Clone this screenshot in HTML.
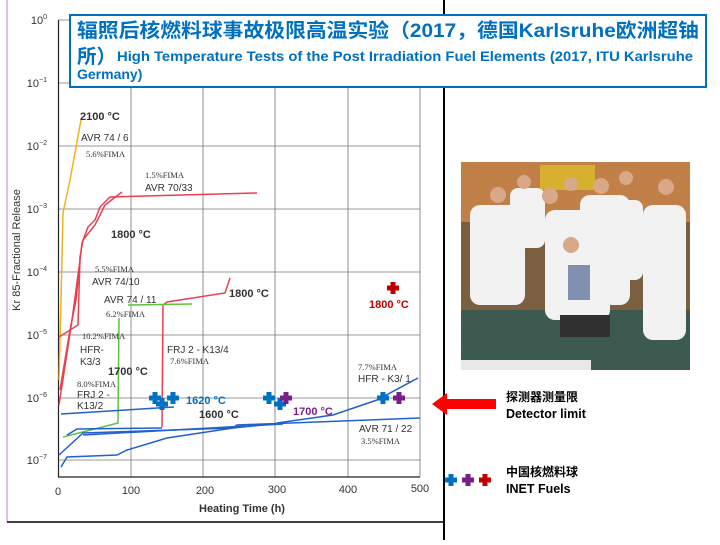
<!DOCTYPE html>
<html><head><meta charset="utf-8"><style>
body{margin:0;background:#fff;width:720px;height:540px;overflow:hidden;font-family:"Liberation Sans","Noto Sans CJK SC",sans-serif;}
</style></head><body>
<svg width="720" height="540" viewBox="0 0 720 540" xmlns="http://www.w3.org/2000/svg" font-family="Liberation Sans, Noto Sans CJK SC, sans-serif">
<defs>
<g id="cr"><path d="M-2.5,-6h5v3.5h3.5v5h-3.5v3.5h-5v-3.5h-3.5v-5h3.5z"/></g>
</defs>
<line x1="7" y1="0" x2="7" y2="522" stroke="#c080c0" stroke-width="1"/>
<line x1="7" y1="522" x2="444" y2="522" stroke="#000" stroke-width="1.5"/>
<line x1="444" y1="0" x2="444" y2="540" stroke="#000" stroke-width="2"/>
<g stroke="#777" stroke-width="0.8">
<line x1="58" y1="20" x2="420" y2="20"/><line x1="58" y1="83" x2="420" y2="83"/>
<line x1="58" y1="146" x2="420" y2="146"/><line x1="58" y1="209" x2="420" y2="209"/>
<line x1="58" y1="272" x2="420" y2="272"/><line x1="58" y1="335" x2="420" y2="335"/>
<line x1="58" y1="398" x2="420" y2="398"/><line x1="58" y1="460" x2="420" y2="460"/>
<line x1="131" y1="20" x2="131" y2="477"/><line x1="203" y1="20" x2="203" y2="477"/>
<line x1="275" y1="20" x2="275" y2="477"/><line x1="348" y1="20" x2="348" y2="477"/>
<line x1="420" y1="20" x2="420" y2="477"/>
</g>
<line x1="58.5" y1="20" x2="58.5" y2="477" stroke="#222" stroke-width="1.2"/>
<line x1="58" y1="477" x2="420" y2="477" stroke="#222" stroke-width="1.2"/>
<g font-size="11" fill="#333" text-anchor="end">
<text x="47" y="24">10<tspan dy="-5" font-size="7">0</tspan></text>
<text x="47" y="87">10<tspan dy="-5" font-size="7">−1</tspan></text>
<text x="47" y="150">10<tspan dy="-5" font-size="7">−2</tspan></text>
<text x="47" y="213">10<tspan dy="-5" font-size="7">−3</tspan></text>
<text x="47" y="276">10<tspan dy="-5" font-size="7">−4</tspan></text>
<text x="47" y="339">10<tspan dy="-5" font-size="7">−5</tspan></text>
<text x="47" y="402">10<tspan dy="-5" font-size="7">−6</tspan></text>
<text x="47" y="464">10<tspan dy="-5" font-size="7">−7</tspan></text>
</g>
<g font-size="11" fill="#333" text-anchor="middle">
<text x="58" y="495">0</text><text x="131" y="494">100</text><text x="205" y="494">200</text>
<text x="277" y="493">300</text><text x="348" y="493">400</text><text x="420" y="492">500</text>
</g>
<text x="242" y="512" font-size="11" font-weight="bold" fill="#333" text-anchor="middle">Heating Time (h)</text>
<text transform="translate(20,250) rotate(-90)" font-size="11" fill="#333" text-anchor="middle">Kr 85-Fractional Release</text>
<g fill="none" stroke-width="1.5">
<path d="M59,380 L61,300 L63,213 L70,180 L81,120" stroke="#f0b020"/>
<path d="M59,405 L67,353 L72,320 L80,260 L82,243 L88,227 L95,220 L100,207 L110,197 L257,193" stroke="#e84050"/>
<path d="M59,337 L78,325 L80,257 L83,240 L95,225 L105,205 L122,192" stroke="#e84050"/>
<path d="M60,390 L70,330 L76,300 L80,262" stroke="#e84050"/>
<path d="M162,427 L163,305 L167,302 L225,293 L230,278" stroke="#e84050"/>
<path d="M63,437 L118,423 L119,318" stroke="#60c040"/>
<path d="M128,305 L192,304" stroke="#60c040"/>
<path d="M61,414 L174,407" stroke="#2060d0"/>
<path d="M67,435 L77,429 L162,428" stroke="#2060d0"/>
<path d="M59,455 L83,433 L233,428 L237,425 L420,418" stroke="#2060d0"/>
<path d="M61,467 L67,457 L117,455 L127,450 L167,438 L233,428 L283,423" stroke="#2060d0"/>
<path d="M83,435 L283,424" stroke="#2060d0"/>
<path d="M277,423 L333,415 L377,400 L418,378" stroke="#2060d0"/>
</g>
<g font-size="10" fill="#333">
<text x="80" y="120" font-weight="bold" font-size="11">2100 °C</text>
<text x="81" y="141">AVR 74 / 6</text>
<text x="86" y="157" font-family="Liberation Serif" font-size="8.5">5.6%FIMA</text>
<text x="145" y="178" font-family="Liberation Serif" font-size="8.5">1.5%FIMA</text>
<text x="145" y="191">AVR 70/33</text>
<text x="111" y="238" font-weight="bold" font-size="11">1800 °C</text>
<text x="95" y="272" font-family="Liberation Serif" font-size="8.5">5.5%FIMA</text>
<text x="92" y="285">AVR 74/10</text>
<text x="104" y="303">AVR 74 / 11</text>
<text x="106" y="317" font-family="Liberation Serif" font-size="8.5">6.2%FIMA</text>
<text x="229" y="297" font-weight="bold" font-size="11">1800 °C</text>
<text x="82" y="339" font-family="Liberation Serif" font-size="8.5">10.2%FIMA</text>
<text x="80" y="353">HFR-</text>
<text x="80" y="365">K3/3</text>
<text x="167" y="353">FRJ 2 - K13/4</text>
<text x="170" y="364" font-family="Liberation Serif" font-size="8.5">7.6%FIMA</text>
<text x="108" y="375" font-weight="bold" font-size="11">1700 °C</text>
<text x="77" y="387" font-family="Liberation Serif" font-size="8.5">8.0%FIMA</text>
<text x="77" y="398">FRJ 2 -</text>
<text x="77" y="409">K13/2</text>
<text x="199" y="418" font-weight="bold" font-size="11">1600 °C</text>
<text x="358" y="370" font-family="Liberation Serif" font-size="8.5">7.7%FIMA</text>
<text x="358" y="382">HFR - K3/ 1</text>
<text x="359" y="432">AVR 71 / 22</text>
<text x="361" y="444" font-family="Liberation Serif" font-size="8.5">3.5%FIMA</text>
</g>
<g fill="#0070c0">
<use href="#cr" x="155" y="398"/><use href="#cr" x="162" y="404"/><use href="#cr" x="173" y="398"/>
<use href="#cr" x="269" y="398"/><use href="#cr" x="280" y="404"/><use href="#cr" x="383" y="398"/>
<use href="#cr" x="451" y="480"/>
</g>
<g fill="#7a1f8a">
<use href="#cr" x="286" y="398"/><use href="#cr" x="399" y="398"/><use href="#cr" x="468" y="480"/>
</g>
<g fill="#c00000"><use href="#cr" x="393" y="288"/><use href="#cr" x="485" y="480"/></g>
<text x="186" y="404" font-size="11" font-weight="bold" fill="#0070c0">1620 °C</text>
<text x="293" y="415" font-size="11" font-weight="bold" fill="#7a1f8a">1700 °C</text>
<text x="369" y="308" font-size="11" font-weight="bold" fill="#c00000">1800 °C</text>
<rect x="70" y="15" width="636" height="72" fill="#fff" stroke="#0070c0" stroke-width="2"/>
<text x="77" y="37" font-size="19.5" font-weight="bold" fill="#0070c0" textLength="622" lengthAdjust="spacingAndGlyphs">辐照后核燃料球事故极限高温实验（2017，德国Karlsruhe欧洲超铀</text>
<text x="77" y="63" font-size="19.5" font-weight="bold" fill="#0070c0">所）</text>
<text x="117" y="61" font-size="14" font-weight="bold" fill="#0070c0" textLength="576" lengthAdjust="spacingAndGlyphs">High Temperature Tests of the Post Irradiation Fuel Elements (2017, ITU Karlsruhe</text>
<text x="77" y="79" font-size="14" font-weight="bold" fill="#0070c0">Germany)</text>
<rect x="461" y="162" width="229" height="208" fill="#7a6040"/>
<rect x="461" y="162" width="229" height="60" fill="#c08048"/>
<rect x="540" y="165" width="55" height="25" fill="#d8b030"/>
<rect x="461" y="310" width="229" height="60" fill="#3d5a50"/>
<rect x="461" y="360" width="130" height="10" fill="#e8e8e8"/>
<g fill="#f2f2f2">
<rect x="470" y="205" width="55" height="100" rx="10"/>
<rect x="510" y="188" width="35" height="60" rx="8"/>
<rect x="545" y="210" width="50" height="105" rx="10"/>
<rect x="580" y="195" width="50" height="110" rx="10"/>
<rect x="608" y="200" width="35" height="80" rx="8"/>
<rect x="643" y="205" width="43" height="135" rx="10"/>
<rect x="545" y="265" width="65" height="55" rx="10"/>
</g>
<g fill="#d8a888">
<circle cx="498" cy="195" r="8"/><circle cx="524" cy="182" r="7"/><circle cx="550" cy="196" r="8"/>
<circle cx="571" cy="184" r="7"/><circle cx="601" cy="186" r="8"/><circle cx="626" cy="178" r="7"/>
<circle cx="666" cy="187" r="8"/><circle cx="571" cy="245" r="8"/>
</g>
<rect x="568" y="265" width="22" height="35" fill="#8090b0"/>
<rect x="560" y="315" width="50" height="22" fill="#303030"/>
<path d="M432,404 L447,393 L447,399 L496,399 L496,409 L447,409 L447,415 Z" fill="#ff0000"/>
<text x="506" y="401" font-size="12" font-weight="bold" fill="#000">探测器测量限</text>
<text x="506" y="418" font-size="12.5" font-weight="bold" fill="#000">Detector limit</text>
<text x="506" y="476" font-size="12" font-weight="bold" fill="#000">中国核燃料球</text>
<text x="506" y="493" font-size="12.5" font-weight="bold" fill="#000">INET Fuels</text>
</svg>
</body></html>
